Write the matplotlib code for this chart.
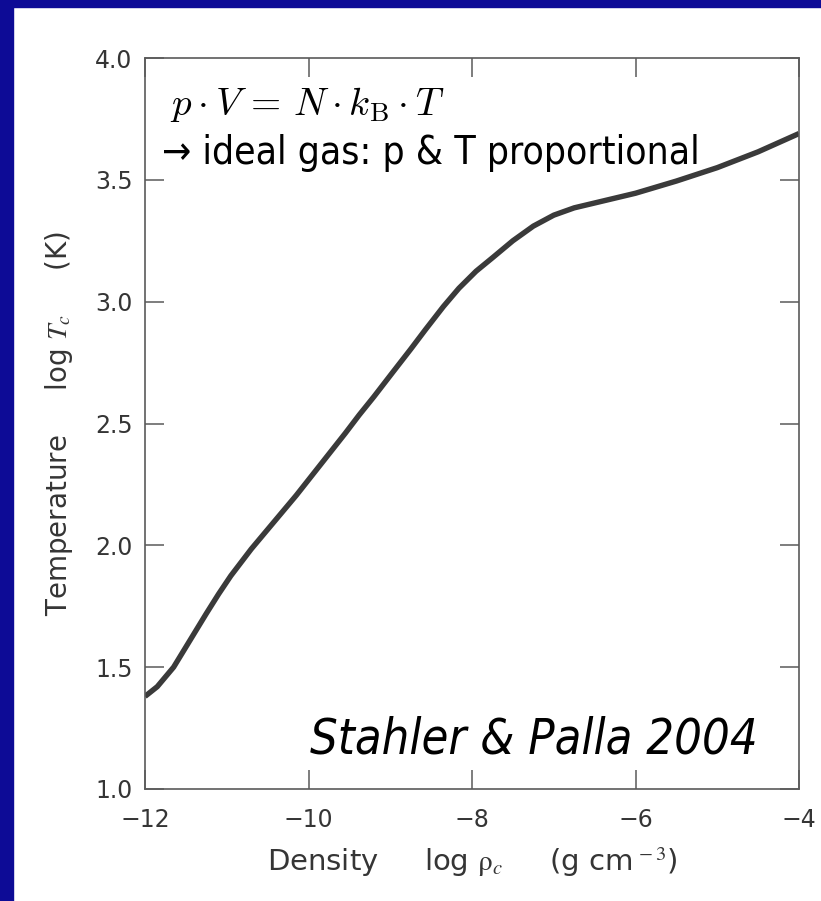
import matplotlib
matplotlib.use("Agg")
from matplotlib import pyplot as plt
from matplotlib.patches import Rectangle

# central density vs central temperature of a collapsing cloud core
log_rho = [-12.0, -11.85, -11.65, -11.45, -11.25, -11.1, -10.95, -10.7, -10.5,
           -10.35, -10.15, -9.95, -9.75, -9.55, -9.38, -9.2, -8.97, -8.75,
           -8.57, -8.35, -8.16, -7.95, -7.75, -7.5, -7.25, -7.0, -6.75, -6.5,
           -6.25, -6.0, -5.5, -5.0, -4.5, -4.0]
log_T = [1.38, 1.42, 1.50, 1.61, 1.72, 1.80, 1.875, 1.985, 2.065,
         2.125, 2.205, 2.29, 2.375, 2.46, 2.535, 2.61, 2.71, 2.805,
         2.885, 2.98, 3.055, 3.125, 3.18, 3.25, 3.31, 3.355, 3.385, 3.405,
         3.425, 3.445, 3.495, 3.55, 3.615, 3.69]

x_ticks = [-12, -10, -8, -6, -4]
y_ticks = [1.0, 1.5, 2.0, 2.5, 3.0, 3.5, 4.0]

W, H = 821, 901
SLIDE_BLUE = "#0d0b96"
INK = "#353535"


def fx(px):
    return px / W


def fy(py):
    return 1 - py / H


fig = plt.figure(figsize=(W / 100, H / 100), dpi=100)
fig.patch.set_facecolor("white")
# slide border strips
fig.patches.append(Rectangle((0, 0), fx(13), 1, transform=fig.transFigure,
                             color=SLIDE_BLUE, zorder=0))
fig.patches.append(Rectangle((0, fy(7)), 1, 1, transform=fig.transFigure,
                             color=SLIDE_BLUE, zorder=0))

ax = fig.add_axes([fx(145), fy(789), fx(799) - fx(145), fy(58) - fy(789)])
ax.plot(log_rho, log_T, color="#3a3a3a", linewidth=3.9,
        solid_capstyle="butt", solid_joinstyle="round")

ax.set_xlim(-12, -4)
ax.set_ylim(1.0, 4.0)
ax.set_xticks(x_ticks)
ax.set_yticks(y_ticks)
ax.set_xticklabels([f"\u2212{abs(v)}" for v in x_ticks])
ax.set_yticklabels([f"{v:.1f}" for v in y_ticks])

for s in ax.spines.values():
    s.set_color("#5a5a5a")
    s.set_linewidth(1.2)
ax.tick_params(direction="in", length=13.5, width=1.1, color="#5a5a5a",
               top=True, right=True, labelsize=17, labelcolor=INK)
ax.tick_params(axis="x", pad=14)
ax.tick_params(axis="y", pad=9)
for lab in ax.get_xticklabels() + ax.get_yticklabels():
    lab.set_family("DejaVu Sans")

ax.set_xlabel(r"Density     log $\mathrm{\rho}_c$     (g cm$^{\,-3}$)", fontsize=21,
              color=INK, family="DejaVu Sans", math_fontfamily="stix", labelpad=9)
ax.set_ylabel(r"Temperature     log $T_c$     (K)", fontsize=20,
              color=INK, family="DejaVu Sans", math_fontfamily="stix", labelpad=14)

fig.text(fx(170), fy(115), r"$p \cdot V\, =\, N \cdot k_{\mathrm{B}} \cdot T$",
         fontsize=28, math_fontfamily="cm", color="black")
fig.text(fx(162), fy(164), "\u2192 ideal gas: p & T proportional",
         fontsize=28, family="DejaVu Sans", stretch="condensed", color="black")
fig.text(fx(310), fy(753), "Stahler & Palla 2004", fontsize=35,
         family="DejaVu Sans", stretch="condensed", style="italic", color="black")

fig.savefig("out.png", dpi=100, facecolor=fig.get_facecolor())
